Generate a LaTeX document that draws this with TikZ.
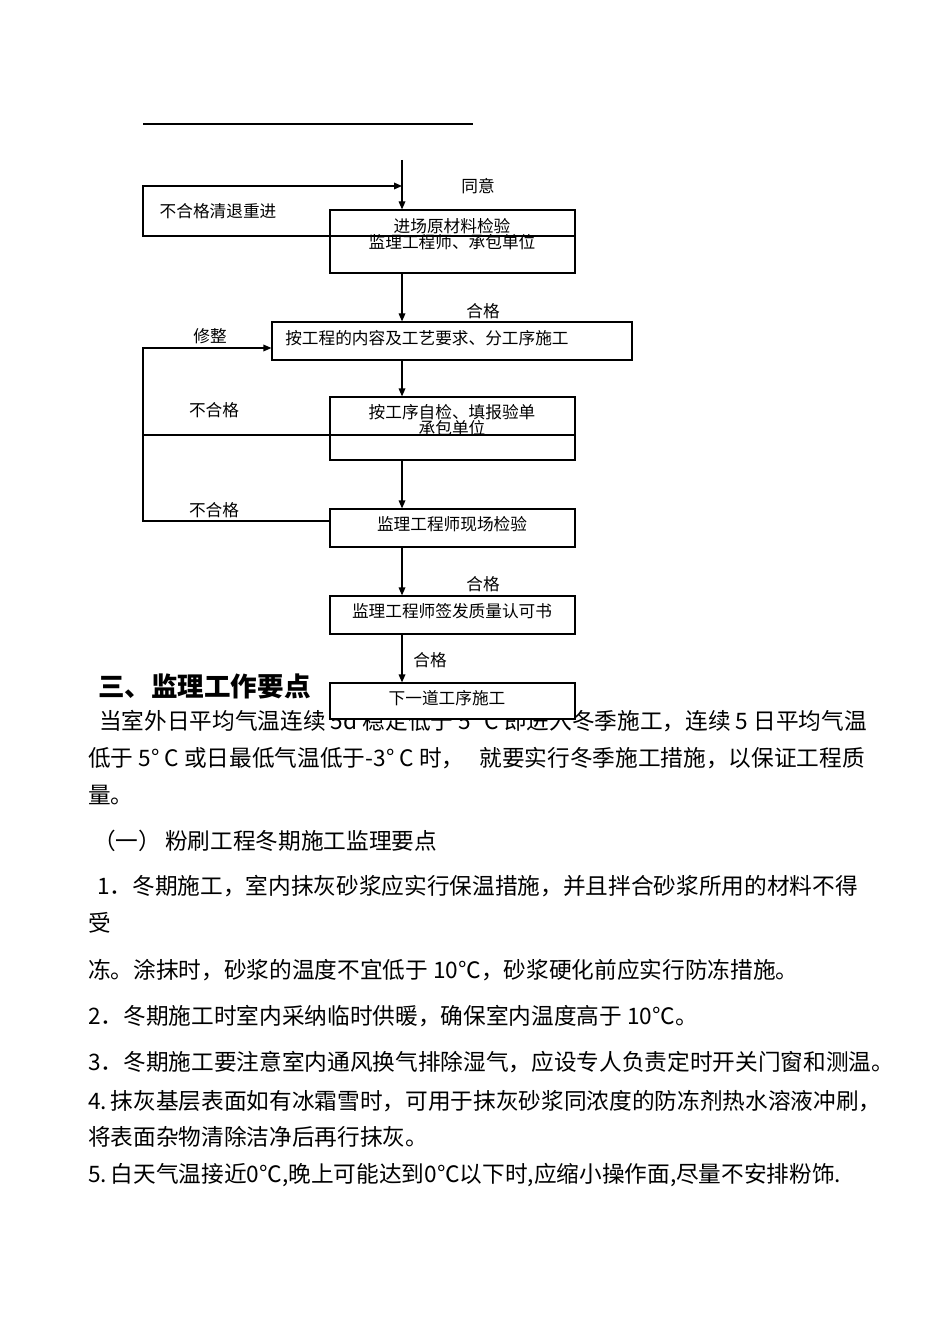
\documentclass[tikz,border=0pt]{standalone}
\usepackage{fontspec}
\setmainfont{Noto Sans CJK SC}
\usepackage{tikz}
\usetikzlibrary{positioning, arrows.meta, calc}

\tikzset{
  box/.style={draw, line width=0.9pt, fill=white, minimum width=183.75pt, inner sep=0pt},
  flow/.style={-{Triangle[length=6pt,width=5pt]}, line width=0.9pt},
  wire/.style={line width=0.9pt},
  chart/.style={font=\fontsize{12.5}{12}\selectfont, inner sep=0pt, align=center},
  body/.style={font=\fontsize{17}{20}\selectfont, inner sep=0pt, anchor=west}
}

\begin{document}
\begin{tikzpicture}[x=0.75pt, y=-0.75pt]
\useasboundingbox (0,0) rectangle (950,1344);

\draw[wire] (143,124) -- (473,124);

% text of the page, the last box sits on its first line
\node[anchor=west, inner sep=0pt, font=\fontsize{19.9}{24}\bfseries] (head) at (98,686) {三、监理工作要点};
\node[body] (p1) at (99,721) {当室外日平均气温连续 5d 稳定低于 5° C 即进入冬季施工，连续 5 日平均气温};
\node[body] (p2) at (88,758) {低于 5° C 或日最低气温低于-3° C 时，\ \ \ 就要实行冬季施工措施，以保证工程质};
\node[body] (p3) at (88,795) {量。};
\node[body] (p4) at (93,841) {（一）\,粉刷工程冬期施工监理要点};
\node[body] (p5) at (97,886) {1．冬期施工，室内抹灰砂浆应实行保温措施，并且拌合砂浆所用的材料不得};
\node[body] (p6) at (88,923) {受};
\node[body] (p7) at (88,970) {冻。涂抹时，砂浆的温度不宜低于 10℃，砂浆硬化前应实行防冻措施。};
\node[body] (p8) at (88,1016) {2．冬期施工时室内采纳临时供暖，确保室内温度高于 10℃。};
\node[body] (p9) at (88,1062) {3．冬期施工要注意室内通风换气排除湿气，应设专人负责定时开关门窗和测温。};
\node[body] (p10) at (88,1101) {4.\,抹灰基层表面如有冰霜雪时，可用于抹灰砂浆同浓度的防冻剂热水溶液冲刷，};
\node[body] (p11) at (88,1137) {将表面杂物清除洁净后再行抹灰。};
\node[body] (p12) at (88,1175) {5.\,白天气温接近0℃,晚上可能达到0℃以下时,应缩小操作面,尽量不安排粉饰.};

% boxes
\node[box, minimum height=47.25pt] (b1) at (452.5,241.5) {};
\node[chart] (t1) at (452,234) {进场原材料检验\\监理工程师、承包单位};
\node[box, minimum width=270pt, minimum height=28.5pt] (b2) at (452,341) {};
\node[chart, anchor=west] (t2) at (285,338) {按工程的内容及工艺要求、分工序施工};
\node[box, minimum height=47.25pt] (b3) at (452.5,428.5) {};
\node[chart] (t3) at (452,420) {按工序自检、填报验单\\承包单位};
\node[box, minimum height=28.5pt] (b4) at (452.5,528) {};
\node[chart] (t4) at (452,524) {监理工程师现场检验};
\node[box, minimum height=28.5pt] (b5) at (452.5,615) {};
\node[chart] (t5) at (452,611) {监理工程师签发质量认可书};
\node[box, minimum height=27pt] (b6) at (452.5,701) {};
\node[chart] (t6) at (447,698) {下一道工序施工};

\coordinate (in) at (402,160);
\coordinate (lt) at (143,186);
\coordinate (lb) at (143,236);
\coordinate (mt) at (143,348);
\coordinate (mm) at (143,435);
\coordinate (mb) at (143,521);

% main line
\draw[flow] (in) -- (in |- b1.north);
\draw[flow] (in |- b1.south) -- (in |- b2.north);
\draw[flow] (in |- b2.south) -- (in |- b3.north);
\draw[flow] (in |- b3.south) -- (in |- b4.north);
\draw[flow] (in |- b4.south) -- (in |- b5.north);
\draw[flow] (in |- b5.south) -- (in |- b6.north);

% return loops
\draw[flow] (b1.east |- lb) -- (lb) -- (lt) -- (in |- lt);
\draw[wire] (b3.east |- mm) -- (mm);
\draw[flow] (b4.west |- mb) -- (mb) -- (mt) -- (b2.west |- mt);

\node[chart] (l1) at (478,186) {同意};
\node[chart] (l2) at (218,211) {不合格清退重进};
\node[chart] (l3) at (483,311) {合格};
\node[chart] (l4) at (210,336) {修整};
\node[chart] (l5) at (214,410) {不合格};
\node[chart] (l6) at (214,510) {不合格};
\node[chart] (l7) at (483,584) {合格};
\node[chart] (l8) at (430,660) {合格};

\end{tikzpicture}
\end{document}
